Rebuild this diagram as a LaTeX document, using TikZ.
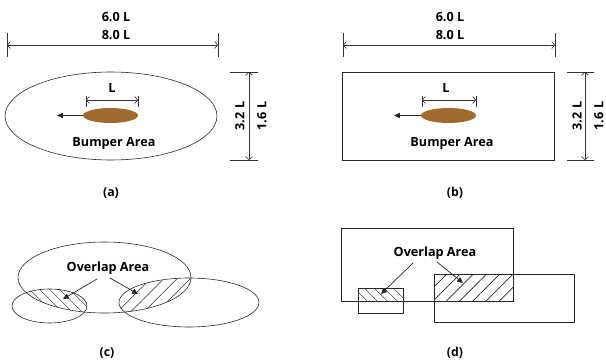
\documentclass[tikz,border=0pt]{standalone}
\usepackage{fontspec}
\setmainfont{Open Sans}
\usepackage{tikz}
\usetikzlibrary{arrows.meta,patterns.meta,shapes.geometric,positioning}
\definecolor{bumper}{HTML}{A0692E}
\definecolor{lgray}{HTML}{333333}

\begin{document}
\begin{tikzpicture}[x=0.03cm,y=-0.03cm,
    font=\bfseries\fontsize{10.8}{12}\selectfont,
    dim/.style={draw=lgray,line width=0.5pt,
      {Straight Barb[length=2.5pt,width=6pt]}-{Straight Barb[length=2.5pt,width=6pt]}},
    ext/.style={draw=lgray,line width=0.5pt},
    outline/.style={draw=black!85,line width=0.5pt},
    car/.style={ellipse,fill=bumper,inner sep=0pt,
      minimum width=1.65cm,minimum height=0.45cm},
    ptr/.style={draw=black!85,line width=0.6pt,-{Triangle[length=5pt,width=4.5pt]}},
    hatchne/.style={pattern={Lines[angle=45,distance=8pt,line width=0.5pt]},pattern color=black!85},
    hatchnw/.style={pattern={Lines[angle=-45,distance=6.5pt,line width=0.5pt]},pattern color=black!85},
    caption/.style={font=\bfseries\fontsize{10.5}{12}\selectfont}]
  \useasboundingbox (0,0) rectangle (606,363);

  % (a) ellipse area
  \node (a-w6) at (116,17) {6.0 L};
  \node (a-w8) at (116,35) {8.0 L};
  \draw[ext] (7,33) -- (7,57);
  \draw[ext] (218,33) -- (218,57);
  \coordinate (a-wl) at (7,45);
  \coordinate (a-wr) at (218,45);
  \draw[dim] (a-wl) -- (a-wr);
  \draw[outline] (111,116) ellipse (106 and 44);
  \node[car] (car-a) at (110.5,115.5) {};
  \coordinate (tip-a) at (57,115.5);
  \draw[ptr] (car-a.west) -- (tip-a);
  \draw[ext] (86,96) -- (86,107);
  \draw[ext] (138,96) -- (138,107);
  \coordinate (a-ll) at (86,100);
  \coordinate (a-lr) at (138,100);
  \draw[dim] (a-ll) -- (a-lr);
  \node (a-len) at (112,88) {L};
  \node (a-area) at (114,143) {Bumper Area};
  \draw[ext] (230,72) -- (258,72);
  \draw[ext] (230,160) -- (258,160);
  \coordinate (a-ht) at (249,72);
  \coordinate (a-hb) at (249,160);
  \draw[dim] (a-ht) -- (a-hb);
  \node[rotate=90] (a-h3) at (240,116) {3.2 L};
  \node[rotate=90] (a-h1) at (262,116) {1.6 L};
  \node[caption] (cap-a) at (111,193) {(a)};

  % (b) rectangle area
  \node (b-w6) at (450,17) {6.0 L};
  \node (b-w8) at (450,35) {8.0 L};
  \draw[ext] (343,33) -- (343,57);
  \draw[ext] (555,33) -- (555,57);
  \coordinate (b-wl) at (343,45);
  \coordinate (b-wr) at (555,45);
  \draw[dim] (b-wl) -- (b-wr);
  \draw[outline] (342,72) rectangle (554,160);
  \node[car] (car-b) at (448.5,115.5) {};
  \coordinate (tip-b) at (394,115.5);
  \draw[ptr] (car-b.west) -- (tip-b);
  \draw[ext] (422,96) -- (422,107);
  \draw[ext] (476,96) -- (476,107);
  \coordinate (b-ll) at (422,100);
  \coordinate (b-lr) at (476,100);
  \draw[dim] (b-ll) -- (b-lr);
  \node (b-len) at (446,88) {L};
  \node (b-area) at (452,143) {Bumper Area};
  \draw[ext] (567,72) -- (594,72);
  \draw[ext] (567,160) -- (594,160);
  \coordinate (b-ht) at (585,72);
  \coordinate (b-hb) at (585,160);
  \draw[dim] (b-ht) -- (b-hb);
  \node[rotate=90] (b-h3) at (577,116) {3.2 L};
  \node[rotate=90] (b-h1) at (599,116) {1.6 L};
  \node[caption] (cap-b) at (455,193) {(b)};

  % (c) overlapping ellipses
  \begin{scope}
    \clip (104.5,277.5) ellipse (86.5 and 35.5);
    \fill[hatchnw] (49.5,306) ellipse (37.5 and 17);
    \fill[hatchne] (189,302.5) ellipse (70 and 24.5);
  \end{scope}
  \draw[outline] (104.5,277.5) ellipse (86.5 and 35.5);
  \draw[outline] (49.5,306) ellipse (37.5 and 17);
  \draw[outline] (189,302.5) ellipse (70 and 24.5);
  \node (c-ov) at (108,268) {Overlap Area};
  \coordinate (c-s1) at (97,279);
  \coordinate (c-e1) at (63,299);
  \coordinate (c-s2) at (110,278);
  \coordinate (c-e2) at (138,294);
  \draw[ptr] (c-s1) -- (c-e1);
  \draw[ptr] (c-s2) -- (c-e2);
  \node[caption] (cap-c) at (107,353) {(c)};

  % (d) overlapping rectangles
  \fill[hatchnw] (358,288) rectangle (403,301);
  \fill[hatchne] (434,274) rectangle (513,301);
  \draw[outline] (341,228) rectangle (513,301);
  \draw[outline] (358,288) rectangle (403,313);
  \draw[outline] (434,274) rectangle (574,322);
  \node (d-ov) at (435,253) {Overlap Area};
  \coordinate (d-s1) at (413,263);
  \coordinate (d-e1) at (381,294);
  \coordinate (d-s2) at (437,262);
  \coordinate (d-e2) at (463,283);
  \draw[ptr] (d-s1) -- (d-e1);
  \draw[ptr] (d-s2) -- (d-e2);
  \node[caption] (cap-d) at (455,353) {(d)};
\end{tikzpicture}
\end{document}
